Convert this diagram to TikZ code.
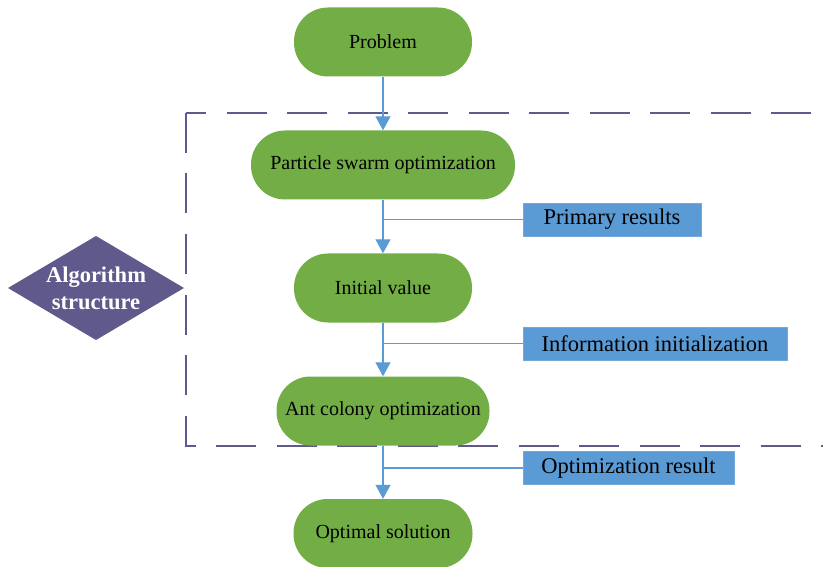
\documentclass[tikz,border=0pt]{standalone}
\usepackage{fontspec}
\setmainfont{Liberation Serif}
\usetikzlibrary{arrows.meta}
\definecolor{ggreen}{HTML}{72AE45}
\definecolor{bblue}{HTML}{5B9BD5}
\definecolor{ppurple}{HTML}{5F598C}
\begin{document}
\begin{tikzpicture}[x=1pt,y=-1pt,
  term/.style={fill=ggreen, rounded corners=34pt, minimum height=69pt, inner sep=0pt,
     font=\fontsize{20}{23}\selectfont, text=black},
  lab/.style={fill=bblue, draw=bblue!85!white, line width=0.6pt, minimum height=33pt, inner sep=0pt,
     font=\fontsize{22.5}{25}\selectfont, text=black},
  conn/.style={draw=bblue, line width=1.3pt},
  arr/.style={conn, -{Triangle[width=15pt,length=14pt]}},
  dashbox/.style={draw=ppurple, line width=2.6pt, dash pattern=on 40pt off 20.5pt}
]
\useasboundingbox (0,0) rectangle (823,567);

% dashed frame (open to the right)
\draw[dashbox] (186,113) -- (186,446) -- (840,446);
\draw[dashbox, dash phase=20pt] (186,113) -- (840,113);

% main flow nodes
\node[term, minimum width=178pt] (prob) at (383,42) {Problem};
\node[term, minimum width=264pt] (pso) at (383,165) {Particle swarm optimization};
\node[term, minimum width=178pt] (iv) at (383,288) {Initial value};
\node[term, minimum width=213pt] (aco) at (383,411) {Ant colony optimization};
\node[term, minimum width=179pt] (opt) at (383,533.5) {Optimal solution};

% side labels
\node[lab, minimum width=178pt] (pr) at (612,219.5) {Primary results};
\node[lab, minimum width=264pt] (ii) at (655,343.5) {Information initialization};
\node[lab, minimum width=211pt] (or) at (628.5,468) {Optimization result};

% diamond
\path[fill=ppurple] (8,288) -- (96,236) -- (184,288) -- (96,340) -- cycle;
\node[font=\fontsize{22.5}{27}\selectfont\bfseries, text=white, align=center] (alg) at (96,288) {Algorithm\\structure};

% connectors
\draw[arr] (prob.south) -- (pso.north);
\draw[arr] (pso.south) -- (iv.north);
\draw[arr] (iv.south) -- (aco.north);
\draw[arr] (aco.south) -- (opt.north);
\draw[conn] (pr.west) -- (pr.west -| pso.south);
\draw[conn] (ii.west) -- (ii.west -| iv.south);
\draw[conn] (or.west) -- (or.west -| aco.south);
\end{tikzpicture}
\end{document}
